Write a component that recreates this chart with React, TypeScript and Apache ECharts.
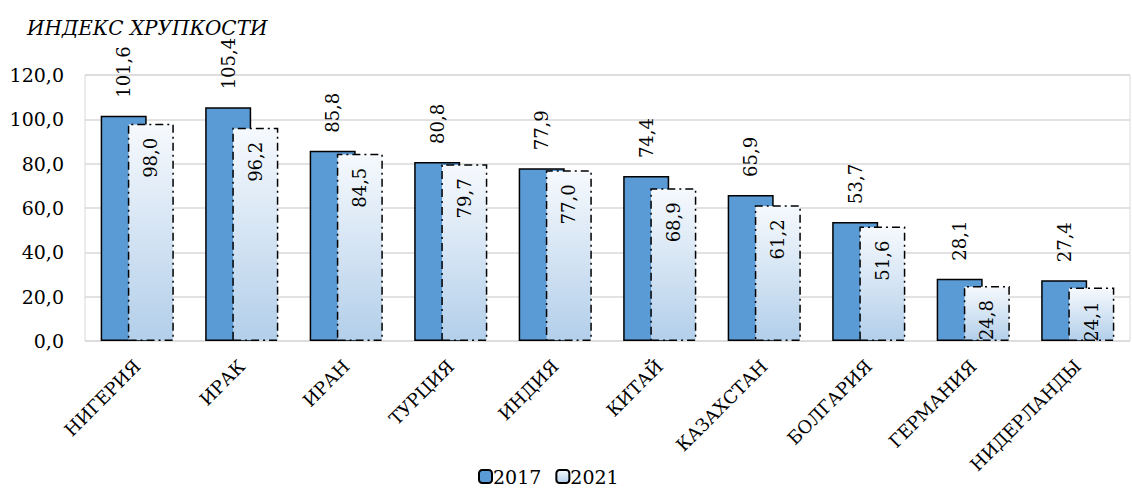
import React, { useEffect, useRef } from "react";
import * as echarts from "echarts";

const countries = [
  "НИГЕРИЯ",
  "ИРАК",
  "ИРАН",
  "ТУРЦИЯ",
  "ИНДИЯ",
  "КИТАЙ",
  "КАЗАХСТАН",
  "БОЛГАРИЯ",
  "ГЕРМАНИЯ",
  "НИДЕРЛАНДЫ",
];
const values2017 = [101.6, 105.4, 85.8, 80.8, 77.9, 74.4, 65.9, 53.7, 28.1, 27.4];
const values2021 = [98.0, 96.2, 84.5, 79.7, 77.0, 68.9, 61.2, 51.6, 24.8, 24.1];
const seriesNames = ["2017", "2021"];
const titleText = "ИНДЕКС ХРУПКОСТИ";

const FONT = "DejaVu Serif";
const fmt = (v: number) => v.toFixed(1).replace(".", ",");

export default function App() {
  const ref = useRef<HTMLDivElement>(null);

  useEffect(() => {
    if (!ref.current) return;
    const chart = echarts.init(ref.current, undefined, { renderer: "svg" });

    const lightFill = new echarts.graphic.LinearGradient(0, 0, 0, 1, [
      { offset: 0, color: "#f6f9fd" },
      { offset: 1, color: "#b3cfea" },
    ]);

    chart.setOption({
      animation: false,
      backgroundColor: "#ffffff",
      textStyle: { fontFamily: FONT },
      title: {
        text: titleText,
        left: 22,
        top: 13,
        textStyle: {
          fontFamily: FONT,
          fontStyle: "italic",
          fontWeight: "normal",
          fontSize: 20,
          color: "#000",
        },
      },
      legend: {
        bottom: 1,
        left: 473,
        itemWidth: 13,
        itemHeight: 13,
        itemGap: 14,
        textStyle: { fontFamily: FONT, fontSize: 19, color: "#000", padding: [0, 0, 0, -4] },
        data: seriesNames,
      },
      grid: {
        left: 85,
        right: 2,
        top: 75,
        bottom: 151,
        show: true,
        borderColor: "#d9d9d9",
        borderWidth: 1,
      },
      xAxis: {
        type: "category",
        data: countries,
        axisLine: { show: false },
        axisTick: { show: false },
        axisLabel: {
          rotate: 45,
          interval: 0,
          margin: 22,
          fontFamily: FONT,
          fontSize: 18,
          color: "#000",
        },
      },
      yAxis: {
        type: "value",
        min: 0,
        max: 120,
        interval: 20,
        axisLine: { show: false },
        axisTick: { show: false },
        splitLine: { lineStyle: { color: "#d9d9d9", width: 1.5 } },
        axisLabel: {
          formatter: (v: number) => fmt(v),
          fontFamily: FONT,
          fontSize: 19,
          color: "#000",
          margin: 21,
        },
      },
      series: [
        {
          name: seriesNames[0],
          type: "bar",
          data: values2017,
          barWidth: 46,
          barGap: "-41%",
          itemStyle: { color: "#5b9bd5", borderColor: "#000", borderWidth: 1.5 },
          label: {
            show: true,
            position: "top",
            rotate: 90,
            align: "left",
            verticalAlign: "middle",
            distance: 18,
            formatter: (p: any) => fmt(p.value),
            fontFamily: FONT,
            fontSize: 18,
            color: "#000",
          },
        },
        {
          name: seriesNames[1],
          type: "bar",
          data: values2021,
          barWidth: 46,
          itemStyle: {
            color: lightFill,
            borderColor: "#000",
            borderWidth: 1.5,
            borderType: [8, 4, 2, 4],
          },
          label: {
            show: true,
            position: "insideTop",
            rotate: 90,
            align: "right",
            verticalAlign: "middle",
            distance: 14,
            formatter: (p: any) => fmt(p.value),
            fontFamily: FONT,
            fontSize: 18,
            color: "#000",
          },
        },
      ],
    });

    return () => chart.dispose();
  }, []);

  return (
    <div
      ref={ref}
      style={{ position: "fixed", left: 0, top: 0, width: 1132, height: 492 }}
    />
  );
}
